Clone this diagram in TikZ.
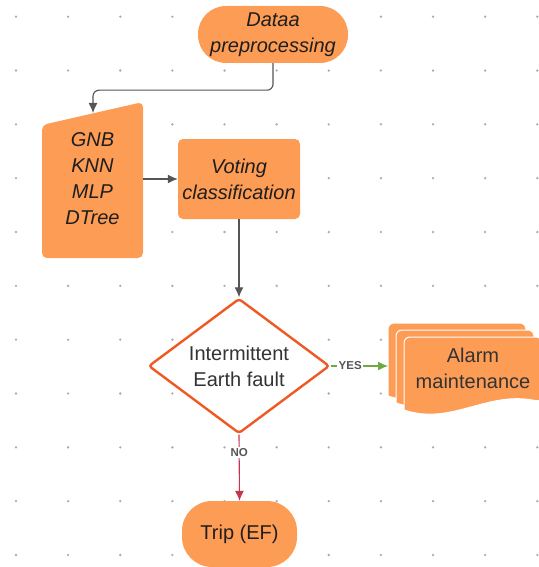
\documentclass[tikz,border=0pt]{standalone}
\usepackage{fontspec}
\setmainfont{Liberation Sans}
\usetikzlibrary{arrows.meta,shapes.geometric}
\definecolor{boxorange}{HTML}{FD9C55}
\definecolor{textdark}{HTML}{1E1E1E}
\definecolor{textgrey}{HTML}{333333}
\definecolor{linegrey}{HTML}{555555}
\definecolor{dotgrey}{HTML}{ABABAB}
\definecolor{decred}{HTML}{EF5A24}
\definecolor{yesgreen}{HTML}{6DAA3F}
\definecolor{nored}{HTML}{C8344E}
\begin{document}
\begin{tikzpicture}[x=1pt,y=-1pt,
    box/.style={fill=boxorange, text=textdark, align=center, inner sep=0pt,
      font=\fontsize{20}{26}\selectfont\itshape},
    plain/.style={text=textgrey, align=center, inner sep=0pt,
      font=\fontsize{20}{26}\selectfont},
    line/.style={draw=linegrey, line width=1.1pt, -{Latex[length=10pt,width=9pt]}},
    lbl/.style={fill=white, text=linegrey, inner sep=1.5pt,
      font=\bfseries\fontsize{11.5}{12}\selectfont}]
  \useasboundingbox (0,0) rectangle (538,567);
  % dot grid
  \foreach \i in {0,...,10}
    \foreach \j in {0,...,10}
      \fill[dotgrey] (16+52.13*\i,16.7+53.83*\j) circle (1.3pt);

  \node[box, rounded corners=28pt, minimum width=150pt, minimum height=57pt] (data) at (273,34.5) {Dataa\\preprocessing};

  % manual input
  \fill[boxorange, rounded corners=5pt] (42,125) -- (143,102) -- (143,258) -- (42,258) -- cycle;
  \node[box, fill=none, minimum width=101pt, minimum height=156pt] (models) at (92.5,179) {GNB\\KNN\\MLP\\DTree};
  \coordinate (mtop) at (93,113);

  \node[box, rounded corners=5pt, minimum width=122pt, minimum height=80pt] (vote) at (239,179) {Voting\\classification};

  \node[plain, shape=diamond, draw=decred, fill=white, line width=2.4pt, rounded corners=3pt,
    aspect=1.34, minimum width=181pt, minimum height=135pt] (dec) at (239,366) {Intermittent\\Earth fault};

  % stacked documents
  \foreach \dx in {0,8,16}
    \path[draw=white, fill=boxorange, line width=1pt] (388+\dx,396+0.875*\dx) [rounded corners=6pt]
      -- (388+\dx,323+0.875*\dx) -- (526+\dx,323+0.875*\dx) -- (526+\dx,388+0.875*\dx) [sharp corners]
      .. controls (471+\dx,376+0.875*\dx) and (436+\dx,412+0.875*\dx) .. (388+\dx,396+0.875*\dx) -- cycle;
  \node[plain] (alarm) at (473,368) {Alarm\\maintenance};
  \coordinate (alarmin) at (388,366);

  \node[plain, fill=boxorange, text=textdark, rounded corners=30pt, minimum width=115pt, minimum height=66pt] (trip) at (239.5,534) {Trip (EF)};

  \draw[line, rounded corners=6pt] (data.south) -- ++(0,27) -| (mtop);
  \draw[line] (models.east) -- (vote.west);
  \draw[line] (vote.south) -- (dec.north);
  \draw[line, draw=yesgreen] (dec.east) -- node[lbl, pos=0.34] {YES} (alarmin);
  \draw[line, draw=nored] (dec.south) -- node[lbl, pos=0.27] {NO} (trip.north);
\end{tikzpicture}
\end{document}
